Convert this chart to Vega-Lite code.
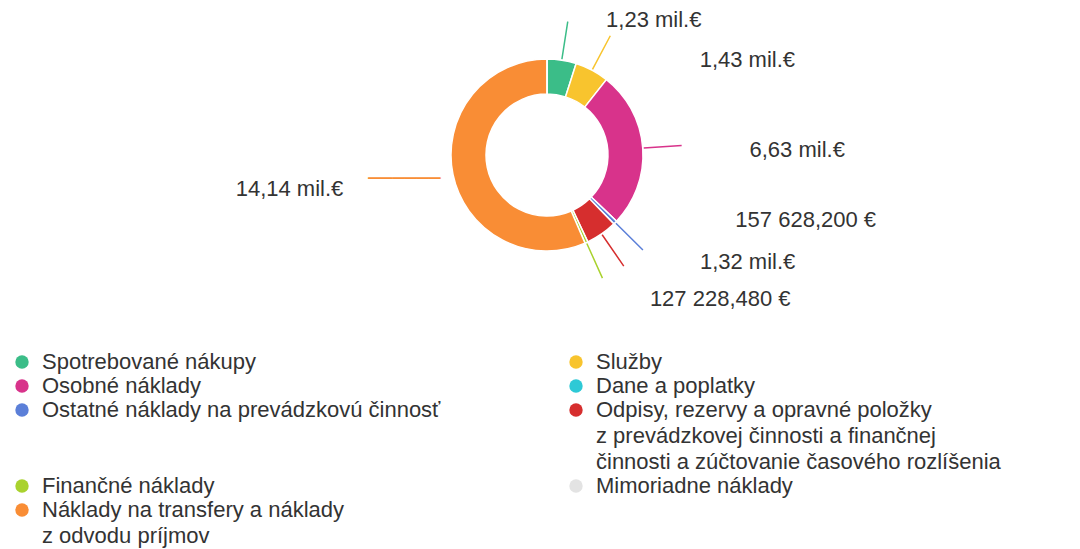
{
  "$schema": "https://vega.github.io/schema/vega-lite/v6.json",
  "autosize": {"type": "none"},
  "width": 1066,
  "height": 310,
  "padding": {"left": 14, "top": 0, "right": 0, "bottom": 239},
  "background": "white",
  "config": {
    "view": {"stroke": null},
    "text": {"font": "Liberation Sans"},
    "style": {"guide-label": {"lineHeight": 26}}
  },
  "data": {
    "values": [
      {"kategoria": "Spotrebované nákupy", "hodnota": 1230000, "popis": "1,23 mil.€", "poradie": 1},
      {"kategoria": "Služby", "hodnota": 1430000, "popis": "1,43 mil.€", "poradie": 2},
      {"kategoria": "Osobné náklady", "hodnota": 6630000, "popis": "6,63 mil.€", "poradie": 3},
      {"kategoria": "Dane a poplatky", "hodnota": 0, "popis": "", "poradie": 4},
      {"kategoria": "Ostatné náklady na prevádzkovú činnosť", "hodnota": 157628.2, "popis": "157 628,200 €", "poradie": 5},
      {"kategoria": "Odpisy, rezervy a opravné položky z prevádzkovej činnosti a finančnej činnosti a zúčtovanie časového rozlíšenia", "hodnota": 1320000, "popis": "1,32 mil.€", "poradie": 6},
      {"kategoria": "Finančné náklady", "hodnota": 127228.48, "popis": "127 228,480 €", "poradie": 7},
      {"kategoria": "Náklady na transfery a náklady z odvodu príjmov", "hodnota": 14140000, "popis": "14,14 mil.€", "poradie": 8},
      {"kategoria": "Mimoriadne náklady", "hodnota": 0, "popis": "", "poradie": 9}
    ]
  },
  "encoding": {
    "theta": {"field": "hodnota", "type": "quantitative", "stack": true},
    "order": {"field": "poradie", "type": "quantitative", "sort": "ascending"}
  },
  "layer": [
    {
      "mark": {"type": "arc", "innerRadius": 61, "outerRadius": 96, "stroke": "white", "strokeWidth": 1.5},
      "encoding": {
        "color": {
          "field": "kategoria",
          "type": "nominal",
          "scale": {
            "domain": ["Spotrebované nákupy", "Služby", "Osobné náklady", "Dane a poplatky", "Ostatné náklady na prevádzkovú činnosť", "Odpisy, rezervy a opravné položky z prevádzkovej činnosti a finančnej činnosti a zúčtovanie časového rozlíšenia", "Finančné náklady", "Mimoriadne náklady", "Náklady na transfery a náklady z odvodu príjmov"],
            "range": ["#3bbd88", "#f8c42e", "#d8338b", "#2ec9d6", "#5b7fd8", "#d62e2e", "#a9d22e", "#e3e3e3", "#f98d35"]
          },
          "legend": {
            "title": null,
            "orient": "none",
            "direction": "horizontal",
            "legendX": -3,
            "legendY": 351,
            "columns": 2,
            "columnPadding": 124,
            "rowPadding": 2,
            "padding": 0,
            "symbolType": "circle",
            "symbolSize": 180,
            "symbolStrokeWidth": 0,
            "labelFont": "Liberation Sans",
            "labelFontSize": 22,
            "labelColor": "#333333",
            "labelOffset": 9,
            "labelLimit": 700,
            "labelExpr": "datum.label == 'Odpisy, rezervy a opravné položky z prevádzkovej činnosti a finančnej činnosti a zúčtovanie časového rozlíšenia' ? ['Odpisy, rezervy a opravné položky', 'z prevádzkovej činnosti a finančnej', 'činnosti a zúčtovanie časového rozlíšenia'] : datum.label == 'Náklady na transfery a náklady z odvodu príjmov' ? ['Náklady na transfery a náklady', 'z odvodu príjmov'] : datum.label == 'Ostatné náklady na prevádzkovú činnosť' ? ['Ostatné náklady na prevádzkovú činnosť', ' ', ' '] : datum.label"
          }
        }
      }
    },
    {
      "mark": {"type": "arc", "innerRadius": 97, "outerRadius": 135, "padAngle": 3.14159, "filled": false, "strokeWidth": 1.5},
      "encoding": {
        "stroke": {
          "field": "kategoria",
          "type": "nominal",
          "scale": {
            "domain": ["Spotrebované nákupy", "Služby", "Osobné náklady", "Dane a poplatky", "Ostatné náklady na prevádzkovú činnosť", "Odpisy, rezervy a opravné položky z prevádzkovej činnosti a finančnej činnosti a zúčtovanie časového rozlíšenia", "Finančné náklady", "Mimoriadne náklady", "Náklady na transfery a náklady z odvodu príjmov"],
            "range": ["#3bbd88", "#f8c42e", "#d8338b", "#2ec9d6", "#5b7fd8", "#d62e2e", "#a9d22e", "#e3e3e3", "#f98d35"]
          },
          "legend": null
        },
        "strokeOpacity": {
          "condition": {"test": "datum.hodnota <= 0 || datum.poradie == 8", "value": 0},
          "value": 1
        }
      }
    },
    {
      "mark": {"type": "text", "radius": 137, "dx": 38, "align": "left", "baseline": "middle", "fontSize": 22, "fill": "#333333"},
      "encoding": {"text": {"condition": {"test": "datum.poradie == 1", "field": "popis"}, "value": ""}}
    },
    {
      "mark": {"type": "text", "radius": 108, "dx": 102, "align": "left", "baseline": "middle", "fontSize": 22, "fill": "#333333"},
      "encoding": {"text": {"condition": {"test": "datum.poradie == 2", "field": "popis"}, "value": ""}}
    },
    {
      "mark": {"type": "text", "radius": 203, "dy": 9, "align": "left", "baseline": "middle", "fontSize": 22, "fill": "#333333"},
      "encoding": {"text": {"condition": {"test": "datum.poradie == 3", "field": "popis"}, "value": ""}}
    },
    {
      "mark": {"type": "text", "radius": 92, "dx": 123, "align": "left", "baseline": "middle", "fontSize": 22, "fill": "#333333"},
      "encoding": {"text": {"condition": {"test": "datum.poradie == 5", "field": "popis"}, "value": ""}}
    },
    {
      "mark": {"type": "text", "radius": 130, "dx": 79, "align": "left", "baseline": "middle", "fontSize": 22, "fill": "#333333"},
      "encoding": {"text": {"condition": {"test": "datum.poradie == 6", "field": "popis"}, "value": ""}}
    },
    {
      "mark": {"type": "text", "radius": 158, "dx": 38, "align": "left", "baseline": "middle", "fontSize": 22, "fill": "#333333"},
      "encoding": {"text": {"condition": {"test": "datum.poradie == 7", "field": "popis"}, "value": ""}}
    },
    {
      "mark": {"type": "text", "radius": 208, "dy": -8, "align": "right", "baseline": "middle", "fontSize": 22, "fill": "#333333"},
      "encoding": {"text": {"condition": {"test": "datum.poradie == 8", "field": "popis"}, "value": ""}}
    },
    {
      "mark": {"type": "text", "radius": 208, "dx": 25, "dy": -18, "align": "left", "baseline": "middle", "fontSize": 20, "font": "DejaVu Sans Mono", "fill": "#f98d35"},
      "encoding": {"text": {"condition": {"test": "datum.poradie == 8", "value": "──────"}, "value": ""}}
    }
  ]
}
